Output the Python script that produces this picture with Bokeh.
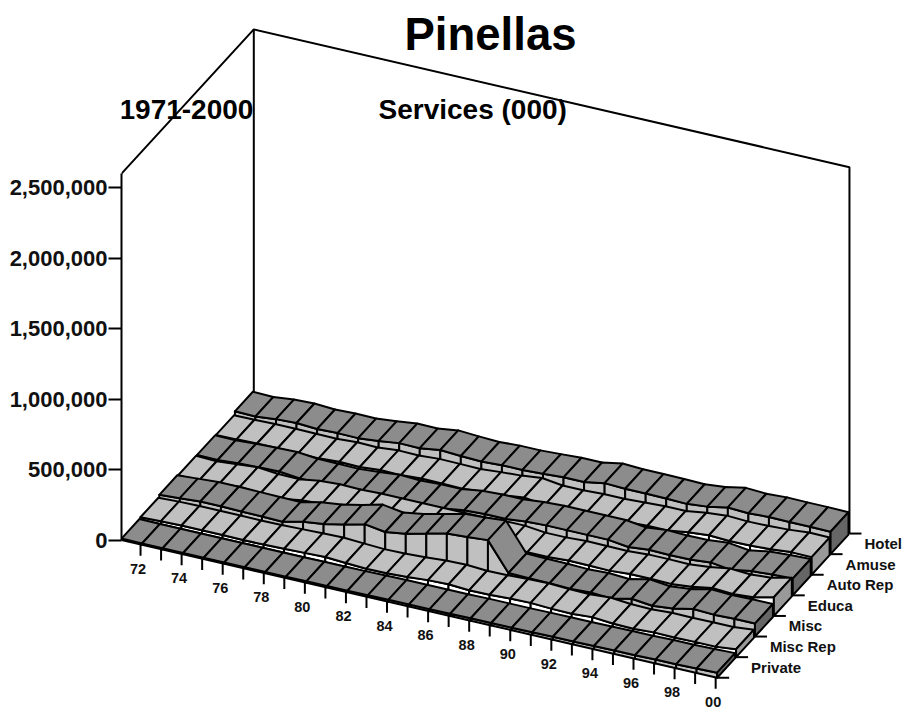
from bokeh.plotting import figure
from bokeh.models import Range1d, LinearAxis, FixedTicker, NumeralTickFormatter, Label
from bokeh.core.properties import value
from bokeh.embed import file_html
from bokeh.resources import INLINE

title_text = "Pinellas"
left_text = "1971-2000"
mid_text = "Services (000)"
years = [f"{y % 100:02d}" for y in range(1971, 2001)]
y_ticks = [0, 500000, 1000000, 1500000, 2000000, 2500000]
axis_top = 2600000
series_names = ["Private", "Misc Rep", "Misc", "Educa", "Auto Rep", "Amuse", "Hotel"]

# values in thousands of axis units
private = [10,9,9,9,9,9,9,9,9,10,10,11,13,15,15,15,16,18,18,18,20,21,21,23,25,25,28,28,32,36]
misc_rep = [15,21,24,24,24,22,24,28,32,36,28,21,23,30,41,45,36,38,45,48,41,38,48,36,33,41,39,41,41,56]
misc = [28,38,48,48,45,43,40,73,91,121,157,135,157,192,226,234,246,46,43,41,36,43,34,66,50,64,95,88,92,92]
educa = [21,15,28,40,26,23,45,54,50,56,56,56,56,56,56,64,64,48,48,56,54,52,62,62,59,73,97,88,99,133]
auto_rep = [19,17,27,32,36,21,20,17,28,43,36,43,43,64,71,71,86,92,92,92,92,73,88,84,86,99,80,105,114,119]
amuse = [15,17,21,21,19,17,26,23,36,33,43,41,38,50,59,76,56,56,64,64,71,78,78,99,112,105,107,114,127,125]
hotel = [36,33,48,54,45,50,48,62,80,78,99,90,84,92,92,99,107,107,133,127,127,125,121,135,163,155,163,161,161,159]
series = [private, misc_rep, misc, educa, auto_rep, amuse, hotel]

FONT = "Liberation Sans"
W, H = 904, 717
LEFT = 121          # x of the frame's left edge / the y axis
X0, Y0 = 121.0, 539.5
YEAR_DX, YEAR_DY = 20.54, 4.75
SER_DX, SER_DY = 18.9, -20.6
PX_PER_UNIT = 352.3 / 2500000.0
RIBBON = 0.95


def proj(i, k, v=0.0):
    return (X0 + YEAR_DX * i + SER_DX * k,
            Y0 + YEAR_DY * i + SER_DY * k - v * PX_PER_UNIT)


top_y, bot_y = 0, H
x_range = Range1d(LEFT, W)
y_range = Range1d(bot_y, top_y)
p = figure(width=W, height=H, x_range=x_range, y_range=y_range,
           x_axis_location=None, y_axis_location=None,
           output_backend="svg", toolbar_location=None,
           min_border_left=LEFT, min_border_right=0,
           min_border_top=0, min_border_bottom=0, outline_line_color=None)
p.grid.visible = False

p.extra_y_ranges = {"val": Range1d((Y0 - bot_y) / PX_PER_UNIT, (Y0 - top_y) / PX_PER_UNIT)}
axis = LinearAxis(y_range_name="val", bounds=(0, axis_top),
                  ticker=FixedTicker(ticks=y_ticks),
                  formatter=NumeralTickFormatter(format="0,0"))
axis.major_label_text_font = FONT
axis.major_label_text_font_style = "bold"
axis.major_label_text_font_size = "22px"
axis.major_label_text_color = "#111111"
axis.major_label_standoff = 1
axis.major_tick_in = 0
axis.major_tick_out = 13
axis.minor_tick_line_color = None
axis.axis_line_width = 2
axis.major_tick_line_width = 2
axis.axis_line_color = "black"
p.add_layout(axis, "left")

# back walls
n_years, n_ser = len(years), len(series)
wall = [proj(0, 0, axis_top), proj(0, n_ser, axis_top), proj(n_years - 1, n_ser, axis_top), proj(n_years - 1, n_ser, 0)]
p.line([w[0] for w in wall], [w[1] for w in wall], line_color="black", line_width=2)
back = [proj(0, n_ser, axis_top), proj(0, n_ser, 0)]
p.line([w[0] for w in back], [w[1] for w in back], line_color="black", line_width=2)

# ribbons, back to front
DARK, LIGHT, WHITE = "#8c8c8c", "#c0c0c0", "#ffffff"
CAP_DARK, CAP_LIGHT = "#666666", "#999999"
xs, ys, fills = [], [], []


def add(points, colour):
    xs.append([q[0] for q in points])
    ys.append([q[1] for q in points])
    fills.append(colour)


for k in reversed(range(n_ser)):
    vals = [v * 1000 for v in series[k]]
    dark = k % 2 == 0
    top_c = DARK if dark else LIGHT
    wall_c = LIGHT if dark else WHITE
    cap_c = CAP_DARK if dark else CAP_LIGHT
    for i in range(n_years - 1):
        add([proj(i, k), proj(i + 1, k), proj(i + 1, k, vals[i + 1]), proj(i, k, vals[i])], wall_c)
    for i in range(n_years - 1):
        add([proj(i, k, vals[i]), proj(i + 1, k, vals[i + 1]),
             proj(i + 1, k + RIBBON, vals[i + 1]), proj(i, k + RIBBON, vals[i])], top_c)
    e = n_years - 1
    add([proj(e, k), proj(e, k + RIBBON), proj(e, k + RIBBON, vals[e]), proj(e, k, vals[e])], cap_c)

p.patches(xs, ys, fill_color=fills, line_color="black", line_width=2, line_join="round")

# year ticks and labels
tick_xs, tick_ys = [], []
for i in range(n_years):
    a = proj(i, 0)
    tick_xs.append([a[0] - 1.5, a[0] - 1.5])
    tick_ys.append([a[1], a[1] + 11])
for k in range(n_ser + 1):
    a = proj(n_years - 1, k)
    tick_xs.append([a[0], a[0] + 12])
    tick_ys.append([a[1], a[1]])
p.multi_line(tick_xs, tick_ys, line_color="black", line_width=2)

lab_i = [i for i in range(1, n_years, 2)]
p.text([proj(i, 0)[0] - 4 for i in lab_i], [proj(i, 0)[1] + 24 for i in lab_i],
       text=[years[i] for i in lab_i], text_font=value(FONT), text_font_style="bold",
       text_font_size="14.5px", text_align="center", text_baseline="middle", text_color="#111111")

p.text([proj(n_years - 1, k + 1)[0] + 15 for k in range(n_ser)],
       [proj(n_years - 1, k + 1)[1] + 10 for k in range(n_ser)],
       text=series_names, text_font=value(FONT), text_font_style="bold",
       text_font_size="15px", text_align="left", text_baseline="middle", text_color="#111111")

for txt, x, y, size, align in [(title_text, 490, 34, "45.5px", "center"),
                               (left_text, 119, 109, "28px", "left"),
                               (mid_text, 378, 109, "28px", "left")]:
    p.add_layout(Label(x=x, y=y, text=txt, text_font=FONT, text_font_style="bold",
                       text_font_size=size, text_align=align, text_baseline="middle",
                       text_color="black"))

open("out.html", "w").write(file_html(p, INLINE))
